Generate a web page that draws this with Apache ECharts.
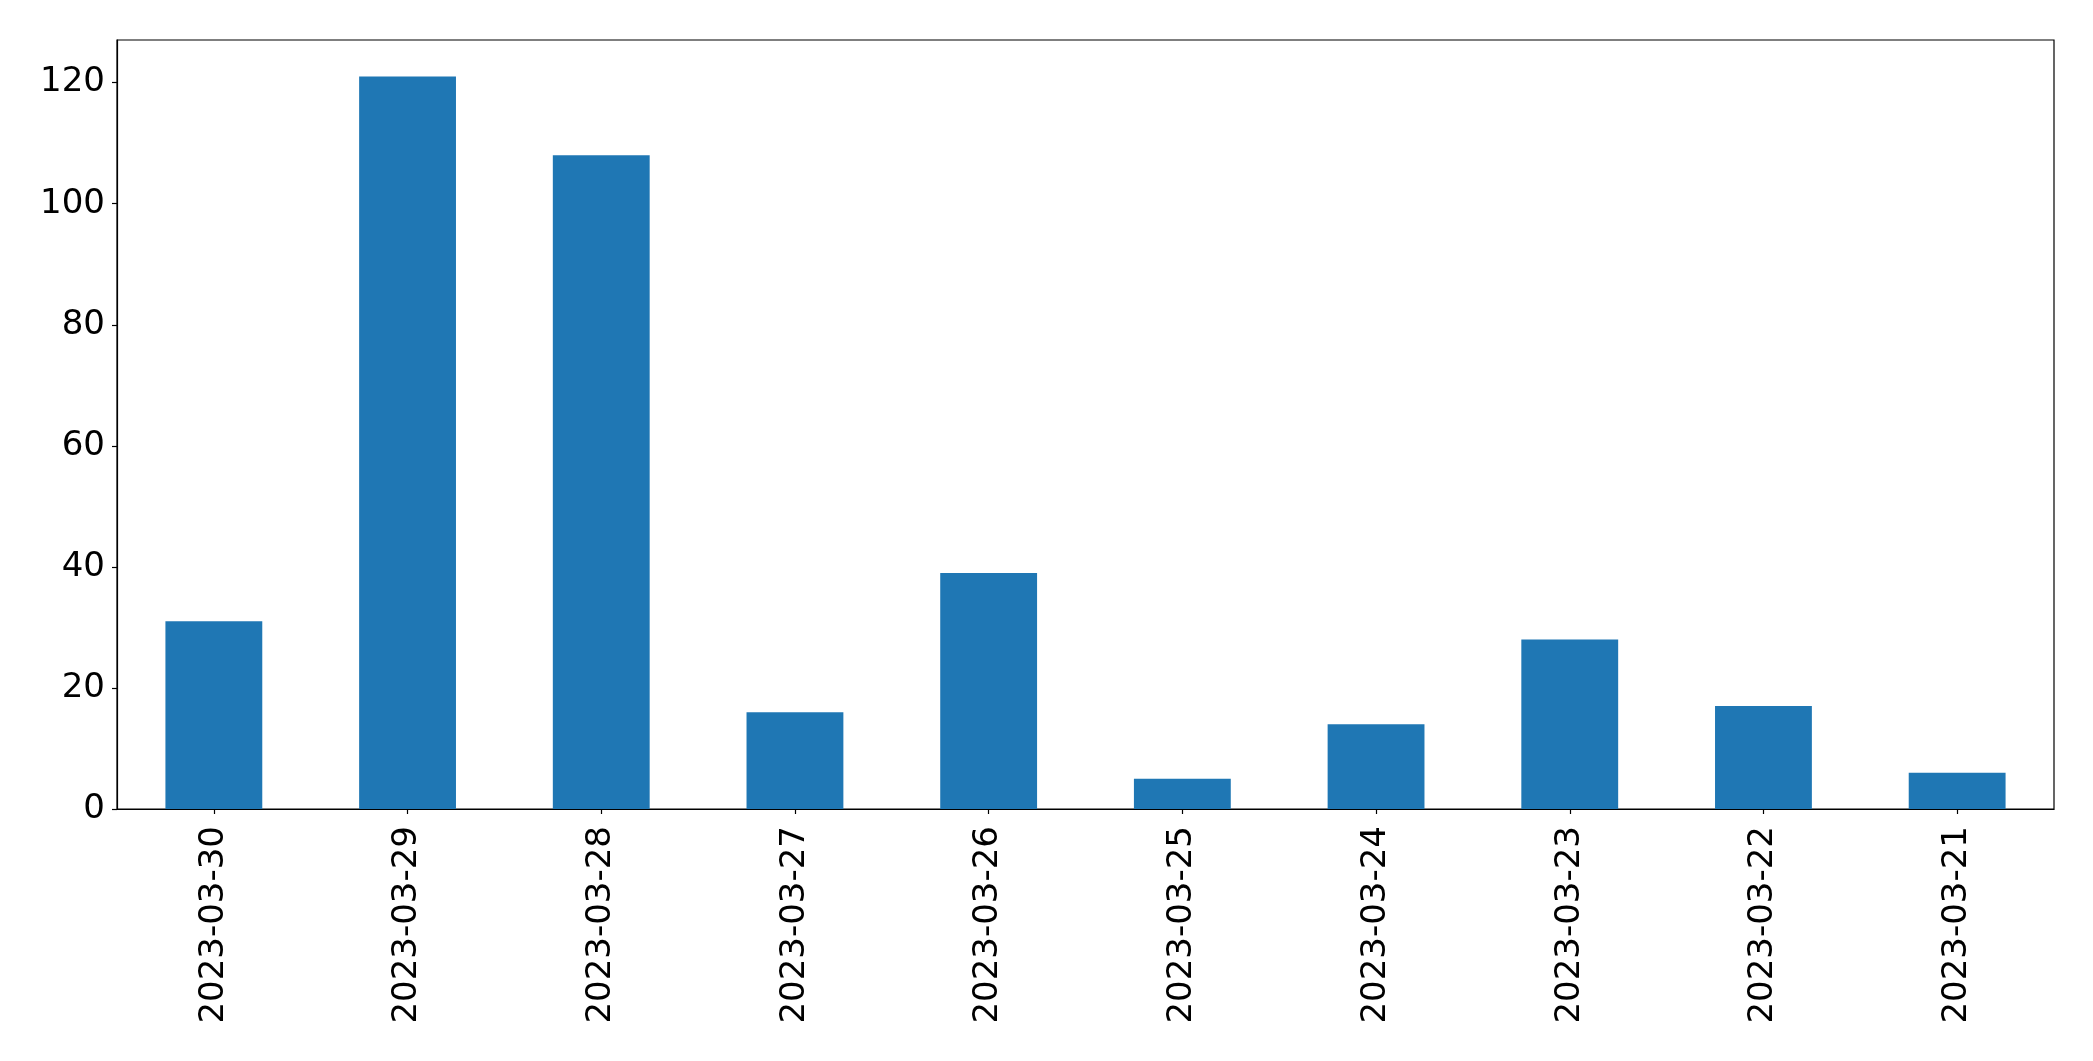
<!DOCTYPE html>
<html>
<head>
<meta charset="utf-8">
<script src="https://cdn.jsdelivr.net/npm/echarts@6/dist/echarts.min.js"></script>
<style>
html,body{margin:0;padding:0;background:#fff;}
#chart{width:2093px;height:1061px;}
</style>
</head>
<body>
<div id="chart"></div>
<script>
const categories = ['2023-03-30','2023-03-29','2023-03-28','2023-03-27','2023-03-26','2023-03-25','2023-03-24','2023-03-23','2023-03-22','2023-03-21'];
const values = [31, 121, 108, 16, 39, 5, 14, 28, 17, 6];
const yTicks = [0, 20, 40, 60, 80, 100, 120];
const yMax = 127.05;

const chart = echarts.init(document.getElementById('chart'), null, {renderer: 'canvas'});
const font = 'DejaVu Sans';
chart.setOption({
  animation: false,
  backgroundColor: '#ffffff',
  grid: {
    left: 117, right: 39, top: 40, bottom: 252,
    show: true, borderColor: '#000', borderWidth: 1.2, backgroundColor: 'transparent'
  },
  xAxis: {
    type: 'category',
    data: categories,
    boundaryGap: true,
    axisLine: {show: true, lineStyle: {color: '#000', width: 1.2}},
    axisTick: {show: true, alignWithLabel: true, length: 5, lineStyle: {color: '#000', width: 1.2}},
    axisLabel: {rotate: 90, fontFamily: font, fontSize: 34, color: '#000', margin: 17, interval: 0}
  },
  yAxis: {
    type: 'value',
    min: 0, max: yMax, interval: 20,
    splitLine: {show: false},
    axisLine: {show: true, lineStyle: {color: '#000', width: 1.2}},
    axisTick: {show: true, length: 5, lineStyle: {color: '#000', width: 1.2}, customValues: yTicks},
    axisLabel: {fontFamily: font, fontSize: 34, color: '#000', margin: 12, customValues: yTicks}
  },
  series: [{
    type: 'bar',
    data: values,
    barWidth: '50%',
    itemStyle: {color: '#1f77b4'}
  }]
});
</script>
</body>
</html>
